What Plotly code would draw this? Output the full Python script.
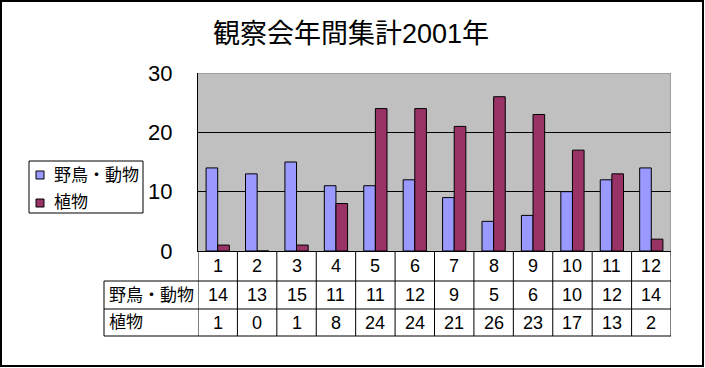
import plotly.graph_objects as go

# ---- data ----
months = [1, 2, 3, 4, 5, 6, 7, 8, 9, 10, 11, 12]
series_names = ["野鳥・動物", "植物"]
birds_animals = [14, 13, 15, 11, 11, 12, 9, 5, 6, 10, 12, 14]
plants = [1, 0, 1, 8, 24, 24, 21, 26, 23, 17, 13, 2]
y_ticks = [0, 10, 20, 30]
title_text = "観察会年間集計2001年"

W, H = 705, 368
FONT = "Liberation Sans, Arial, Noto Sans CJK JP, sans-serif"
C_BLUE = "#9999FF"
C_MAROON = "#993366"


def px(x):
    return x / W


def py(y):
    return 1 - y / H


PL, PR, PT, PB = 198, 671, 73, 251  # plot area in pixels
ROW1, ROW2, ROW3 = 281, 309, 336    # table row bottoms
TL = 104                             # table left edge

fig = go.Figure()
fig.add_trace(go.Bar(x=months, y=birds_animals, name=series_names[0],
                     marker=dict(color=C_BLUE, line=dict(color="black", width=1))))
fig.add_trace(go.Bar(x=months, y=plants, name=series_names[1],
                     marker=dict(color=C_MAROON, line=dict(color="black", width=1))))

shapes = []
# outer border
shapes.append(dict(type="rect", xref="paper", yref="paper",
                   x0=px(1), x1=px(703), y0=py(1), y1=py(366),
                   line=dict(color="black", width=2), layer="below"))
# gray top / right plot border
shapes.append(dict(type="line", xref="x", yref="y", x0=0.5, x1=12.5, y0=30, y1=30,
                   line=dict(color="#808080", width=1)))
shapes.append(dict(type="line", xref="x", yref="y", x0=12.5, x1=12.5, y0=0, y1=30,
                   line=dict(color="#808080", width=1)))
# table horizontal lines
for yy in (ROW1, ROW2, ROW3):
    shapes.append(dict(type="line", xref="paper", yref="paper",
                       x0=px(TL), x1=px(PR), y0=py(yy), y1=py(yy),
                       line=dict(color="black", width=1)))
# table vertical lines at category boundaries
for i in range(len(months) + 1):
    shapes.append(dict(type="line", xref="x", yref="paper",
                       x0=0.5 + i, x1=0.5 + i, y0=py(PB), y1=py(ROW3),
                       line=dict(color="black", width=1)))
shapes.append(dict(type="line", xref="paper", yref="paper",
                   x0=px(TL), x1=px(TL), y0=py(ROW1), y1=py(ROW3),
                   line=dict(color="black", width=1)))

# manual legend
shapes.append(dict(type="rect", xref="paper", yref="paper",
                   x0=px(29), x1=px(143), y0=py(161), y1=py(213),
                   line=dict(color="black", width=1), fillcolor="white"))
for yc, col in ((175, C_BLUE), (203, C_MAROON)):
    shapes.append(dict(type="rect", xref="paper", yref="paper",
                       x0=px(36), x1=px(44), y0=py(yc - 4), y1=py(yc + 4),
                       line=dict(color="black", width=1), fillcolor=col))

annotations = []
for name, yc in zip(series_names, (175, 203)):
    annotations.append(dict(text=name, xref="paper", yref="paper", x=px(52), y=py(yc),
                            xanchor="left", yanchor="middle", showarrow=False,
                            font=dict(size=17, color="black", family=FONT)))

# table text
row_centers = [(PB + ROW1) / 2, (ROW1 + ROW2) / 2, (ROW2 + ROW3) / 2]
for m in months:
    annotations.append(dict(text=str(m), xref="x", yref="paper", x=m, y=py(row_centers[0]),
                            xanchor="center", yanchor="middle", showarrow=False,
                            font=dict(size=18, color="black", family=FONT)))
for vals, yc in ((birds_animals, row_centers[1]), (plants, row_centers[2])):
    for m, v in zip(months, vals):
        annotations.append(dict(text=str(v), xref="x", yref="paper", x=m, y=py(yc),
                                xanchor="center", yanchor="middle", showarrow=False,
                                font=dict(size=18, color="black", family=FONT)))
for name, yc in zip(series_names, row_centers[1:]):
    annotations.append(dict(text=name, xref="paper", yref="paper", x=px(TL + 3), y=py(yc),
                            xanchor="left", yanchor="middle", showarrow=False,
                            font=dict(size=17, color="black", family=FONT)))

fig.update_layout(
    width=W, height=H, autosize=False,
    margin=dict(l=0, r=0, t=0, b=0, pad=0),
    paper_bgcolor="white", plot_bgcolor="#C0C0C0",
    showlegend=False,
    barmode="group", bargap=0.41, bargroupgap=0,
    title=dict(text=title_text, x=px(351), y=py(34), xanchor="center", yanchor="middle",
               font=dict(size=27, color="black", family=FONT)),
    xaxis=dict(domain=[px(PL), px(PR)], range=[0.5, 12.5], showticklabels=False,
               showgrid=False, zeroline=False, showline=True, linecolor="black",
               linewidth=1, ticks="", automargin=False),
    yaxis=dict(domain=[py(PB), py(PT)], range=[0, 30], tickvals=y_ticks,
               showgrid=True, gridcolor="black", gridwidth=1, zeroline=False,
               showline=True, linecolor="black", linewidth=1,
               ticks="inside", ticklen=7, tickcolor="black",
               ticklabelstandoff=20, automargin=False,
               tickfont=dict(size=22, color="black", family=FONT)),
    shapes=shapes, annotations=annotations,
)

fig.write_html("out.html", config={"displayModeBar": False},
               post_script="document.body.style.margin='0';document.body.style.overflow='hidden';")
